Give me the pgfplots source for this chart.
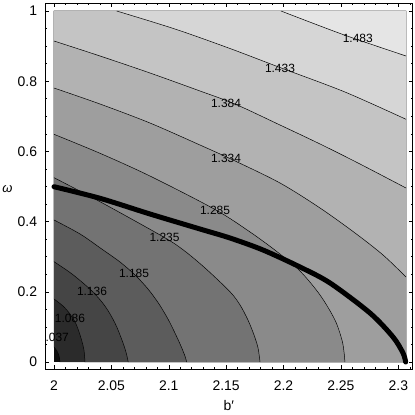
\documentclass[border=0pt]{standalone}
\usepackage{fontspec}
\setmainfont{Liberation Sans}
\usepackage{pgfplots}
\pgfplotsset{compat=1.18}

% shading of the 11 bands, darkest (lowest) to lightest
\definecolor{c0}{gray}{0.05}
\definecolor{c1}{gray}{0.17}
\definecolor{c2}{gray}{0.27}
\definecolor{c3}{gray}{0.36}
\definecolor{c4}{gray}{0.45}
\definecolor{c5}{gray}{0.54}
\definecolor{c6}{gray}{0.62}
\definecolor{c7}{gray}{0.70}
\definecolor{c8}{gray}{0.77}
\definecolor{c9}{gray}{0.84}
\definecolor{c10}{gray}{0.90}

\begin{document}
\begin{tikzpicture}
\begin{axis}[
  at={(0,0)}, anchor=south west,
  scale only axis, width=367.7bp, height=365.5bp,
  xmin=1.99216, xmax=2.31254, ymin=-0.01994, ymax=1.02137,
  xtick={2,2.05,2.1,2.15,2.2,2.25,2.3},
  minor xtick={2.01,2.02,2.03,2.04,2.06,2.07,2.08,2.09,2.11,2.12,2.13,2.14,2.16,2.17,2.18,2.19,2.21,2.22,2.23,2.24,2.26,2.27,2.28,2.29,2.31},
  ytick={0,0.2,0.4,0.6,0.8,1},
  minor ytick={0.05,0.1,0.15,0.25,0.3,0.35,0.45,0.5,0.55,0.65,0.7,0.75,0.85,0.9,0.95},
  tick align=inside,
  major tick length=4bp, minor tick length=2bp,
  every tick/.append style={black, line width=0.5bp},
  axis line style={line width=0.6bp},
  /pgf/number format/assume math mode=true,
  tick label style={font=\fontsize{14}{14}\selectfont},
  xticklabel style={anchor=north, inner sep=0pt, yshift=-12bp},
  yticklabel style={anchor=east, inner sep=0pt, xshift=-7.7bp},
  xlabel={b′}, ylabel={ω},
  xlabel style={font=\fontsize{14}{14}\selectfont, at={(axis description cs:0.5,-0.1122)}, anchor=base},
  ylabel style={font=\fontsize{13}{13}\selectfont\itshape, at={(axis description cs:-0.102,0.4925)}, anchor=center, rotate=-90},
  clip=false,
]
% filled bands
\addplot[fill=c0, draw=none] coordinates {(2,0) (2.3067,0) (2.3067,1) (2,1)} -- cycle;
\addplot[fill=c1, draw=none] coordinates {(2.0000,0.0427) (2.0026,0.0313) (2.0044,0.0171) (2.0052,0) (2.3067,0) (2.3067,1) (2,1)} -- cycle;
\addplot[fill=c2, draw=none] coordinates {(2.0,0.1795) (2.0078,0.1595) (2.0139,0.1368) (2.0192,0.1083) (2.0235,0.0684) (2.0261,0.0342) (2.0270,0) (2.3067,0) (2.3067,1) (2,1)} -- cycle;
\addplot[fill=c3, draw=none] coordinates {(2.0,0.2858) (2.0157,0.2507) (2.0328,0.2031) (2.0444,0.1595) (2.0531,0.1111) (2.0592,0.0627) (2.0627,0.0285) (2.0647,0) (2.3067,0) (2.3067,1) (2,1)} -- cycle;
\addplot[fill=c4, draw=none] coordinates {(2.0,0.4046) (2.0227,0.3647) (2.0416,0.3219) (2.0575,0.2849) (2.0706,0.2479) (2.0819,0.2080) (2.0915,0.1652) (2.0993,0.1225) (2.1054,0.0826) (2.1106,0.0456) (2.1141,0.0171) (2.1156,0) (2.3067,0) (2.3067,1) (2,1)} -- cycle;
\addplot[fill=c5, draw=none] coordinates {(2.0,0.5251) (2.0401,0.4567) (2.0950,0.3570) (2.1127,0.3191) (2.1316,0.2678) (2.1533,0.2003) (2.1621,0.1624) (2.1690,0.1197) (2.1743,0.0769) (2.1778,0.0399) (2.1795,0) (2.3067,0) (2.3067,1) (2,1)} -- cycle;
\addplot[fill=c6, draw=none] coordinates {(2.0,0.6487) (2.0401,0.5946) (2.0836,0.5299) (2.1403,0.4345) (2.1708,0.3704) (2.1943,0.3143) (2.2143,0.2593) (2.2318,0.1909) (2.2448,0.1197) (2.2509,0.0627) (2.2527,0.0285) (2.2535,0) (2.3067,0) (2.3067,1) (2,1)} -- cycle;
\addplot[fill=c7, draw=none] coordinates {(2.0,0.7806) (2.0401,0.7350) (2.0836,0.6809) (2.1272,0.6182) (2.1560,0.5755) (2.1969,0.5100) (2.2318,0.4387) (2.2623,0.3675) (2.2867,0.3048) (2.3067,0.2422) (2.3067,1) (2,1)} -- cycle;
\addplot[fill=c8, draw=none] coordinates {(2.0,0.9145) (2.0401,0.8718) (2.0836,0.8234) (2.1272,0.7721) (2.1577,0.7350) (2.1969,0.6752) (2.2318,0.6211) (2.2666,0.5641) (2.3067,0.4957) (2.3067,1) (2,1)} -- cycle;
\addplot[fill=c9, draw=none] coordinates {(2.0546,1.0) (2.1054,0.9487) (2.1533,0.8932) (2.1969,0.8390) (2.2535,0.7692) (2.3067,0.6915) (2.3067,1)} -- cycle;
\addplot[fill=c10, draw=none] coordinates {(2.1978,1) (2.2518,0.9330) (2.3067,0.8718) (2.3067,1)} -- cycle;

% contour lines
\pgfplotsset{cline/.style={black, line width=0.5bp, smooth}}
\addplot[cline] coordinates {(2.0000,0.0427) (2.0026,0.0313) (2.0044,0.0171) (2.0052,0)};
\addplot[cline] coordinates {(2.0,0.1795) (2.0078,0.1595) (2.0139,0.1368) (2.0192,0.1083) (2.0235,0.0684) (2.0261,0.0342) (2.0270,0)};
\addplot[cline] coordinates {(2.0,0.2858) (2.0157,0.2507) (2.0328,0.2031) (2.0444,0.1595) (2.0531,0.1111) (2.0592,0.0627) (2.0627,0.0285) (2.0647,0)};
\addplot[cline] coordinates {(2.0,0.4046) (2.0227,0.3647) (2.0416,0.3219) (2.0575,0.2849) (2.0706,0.2479) (2.0819,0.2080) (2.0915,0.1652) (2.0993,0.1225) (2.1054,0.0826) (2.1106,0.0456) (2.1141,0.0171) (2.1156,0)};
\addplot[cline] coordinates {(2.0,0.5251) (2.0401,0.4567) (2.0950,0.3570) (2.1127,0.3191) (2.1316,0.2678) (2.1533,0.2003) (2.1621,0.1624) (2.1690,0.1197) (2.1743,0.0769) (2.1778,0.0399) (2.1795,0)};
\addplot[cline] coordinates {(2.0,0.6487) (2.0401,0.5946) (2.0836,0.5299) (2.1403,0.4345) (2.1708,0.3704) (2.1943,0.3143) (2.2143,0.2593) (2.2318,0.1909) (2.2448,0.1197) (2.2509,0.0627) (2.2527,0.0285) (2.2535,0)};
\addplot[cline] coordinates {(2.0,0.7806) (2.0401,0.7350) (2.0836,0.6809) (2.1272,0.6182) (2.1560,0.5755) (2.1969,0.5100) (2.2318,0.4387) (2.2623,0.3675) (2.2867,0.3048) (2.3067,0.2422)};
\addplot[cline] coordinates {(2.0,0.9145) (2.0401,0.8718) (2.0836,0.8234) (2.1272,0.7721) (2.1577,0.7350) (2.1969,0.6752) (2.2318,0.6211) (2.2666,0.5641) (2.3067,0.4957)};
\addplot[cline] coordinates {(2.0546,1.0) (2.1054,0.9487) (2.1533,0.8932) (2.1969,0.8390) (2.2535,0.7692) (2.3067,0.6915)};
\addplot[cline] coordinates {(2.1978,1) (2.2518,0.9330) (2.3067,0.8718)};

% contour labels
\begin{scope}[every node/.style={font=\fontsize{12}{12}\selectfont, inner sep=0pt}]
\node at (axis cs:2.2647,0.9231) {1.483};
\node at (axis cs:2.1969,0.8376) {1.433};
\node at (axis cs:2.1499,0.7379) {1.384};
\node at (axis cs:2.1499,0.5812) {1.334};
\node at (axis cs:2.1403,0.4330) {1.285};
\node at (axis cs:2.0963,0.3547) {1.235};
\node at (axis cs:2.0697,0.2536) {1.185};
\node at (axis cs:2.0331,0.2009) {1.136};
\node at (axis cs:2.0139,0.1254) {1.086};
\node[anchor=east] at (axis cs:2.0131,0.0698) {.037};
\end{scope}

% thick curve
\addplot[black, line width=5bp, line cap=round, smooth] coordinates {(2.0,0.4994) (2.0401,0.4664) (2.0836,0.4217) (2.1272,0.3789) (2.1533,0.3533) (2.1821,0.3191) (2.2143,0.2707) (2.2405,0.2251) (2.2753,0.1396) (2.2954,0.0712) (2.3041,0.0256) (2.3064,0)};
\end{axis}
\pgfresetboundingbox
\path[use as bounding box] (-45bp,-46bp) rectangle (370bp,369bp);
\end{tikzpicture}
\end{document}
